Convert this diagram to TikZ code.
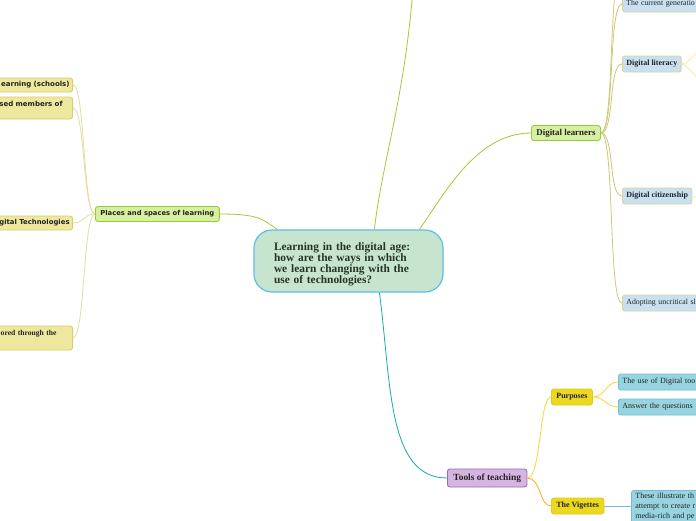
\documentclass[tikz,border=0pt]{standalone}
\usepackage{fontspec}
\setmainfont{Liberation Serif}
\newfontfamily\tagfont{DejaVu Sans}
\usetikzlibrary{positioning}
\definecolor{rootfill}{RGB}{199,229,206}
\definecolor{rootline}{RGB}{92,190,230}
\definecolor{rootink}{RGB}{38,52,40}
\definecolor{greenfill}{RGB}{214,240,160}
\definecolor{greenline}{RGB}{150,202,60}
\definecolor{olivefill}{RGB}{238,232,158}
\definecolor{oliveline}{RGB}{214,206,110}
\definecolor{bluefill}{RGB}{200,224,240}
\definecolor{blueline}{RGB}{216,214,150}
\definecolor{lilacfill}{RGB}{214,180,226}
\definecolor{lilacline}{RGB}{150,110,172}
\definecolor{yelfill}{RGB}{236,216,30}
\definecolor{yelline}{RGB}{224,202,24}
\definecolor{tealfill}{RGB}{152,212,224}
\definecolor{tealline}{RGB}{110,190,212}
\definecolor{ink}{RGB}{35,35,35}
\definecolor{greenlink}{RGB}{164,200,56}
\definecolor{olivelink}{RGB}{206,200,120}
\definecolor{palelink}{RGB}{226,222,160}
\definecolor{teallink}{RGB}{20,170,182}
\definecolor{yellink}{RGB}{252,214,40}
\definecolor{orangelink}{RGB}{250,170,20}
\definecolor{lightyel}{RGB}{250,236,150}
\tikzset{rootbox/.style={draw=rootline,fill=rootfill,line width=1.2pt,rounded corners=18pt,
    text width=149pt,inner xsep=20pt,minimum height=62pt,align=left,text=rootink,
    font=\fontsize{11.4}{11}\selectfont\bfseries},
  leaf/.style={rounded corners=2.5pt,line width=0.8pt,inner xsep=5pt,inner ysep=2pt,text=ink},
  greenbox/.style={leaf,draw=greenline,fill=greenfill,minimum height=15pt},
  olivebox/.style={leaf,draw=oliveline,fill=olivefill,anchor=east,text width=120pt,align=right,
    inner xsep=3pt,font=\tagfont\fontsize{7}{9}\selectfont\bfseries},
  bluebox/.style={leaf,draw=blueline,fill=bluefill,anchor=west,minimum height=16pt,inner xsep=4pt},
  cutbox/.style={text width=120pt,align=left},
  yelbox/.style={leaf,draw=yelline,fill=yelfill,anchor=west,minimum height=16pt,
    font=\fontsize{8}{9}\selectfont\bfseries},
  tealbox/.style={leaf,draw=tealline,fill=tealfill,anchor=west,minimum height=16pt,inner xsep=4pt,
    font=\fontsize{8}{10}\selectfont},
  link/.style={line width=0.8pt}}

\begin{document}
\begin{tikzpicture}[x=1pt,y=-1pt]
\useasboundingbox (0,0) rectangle (696,520);
\begin{scope}
\clip (0,0) rectangle (696,520);
\fill[white] (0,0) rectangle (696,520);
% centre
\node[rootbox] (root) at (348.5,261) {\rule{0pt}{14pt}Learning in the digital age:\\how are the ways in which\\we learn changing with the\\use of technologies?};
% places and spaces
\node[greenbox,anchor=west,font=\tagfont\fontsize{6.8}{8}\selectfont\bfseries] (places) at (95,214) {Places and spaces of learning};
\node[olivebox,minimum height=14pt] (schools) at (73,85) {earning (schools)};
\node[olivebox,minimum height=22pt] (members) at (73,108) {\mbox{sed members of\kern7pt}\\\mbox{}};
\node[olivebox,minimum height=14pt,font=\tagfont\fontsize{6.9}{9}\selectfont\bfseries] (digitech) at (73,223) {gital Technologies};
\node[olivebox,minimum height=24pt,font=\fontsize{7.6}{10}\selectfont\bfseries] (explored) at (73,338) {\mbox{ored through the\kern13pt}\\\mbox{}};
% digital learners
\node[greenbox,anchor=west,font=\fontsize{8.9}{9}\selectfont\bfseries] (learners) at (531,133) {Digital learners};
\node[bluebox,cutbox,font=\fontsize{7.8}{9}\selectfont] (generation) at (622,4) {The current generatio};
\node[bluebox,font=\fontsize{8}{9}\selectfont\bfseries] (literacy) at (622,64) {Digital literacy};
\node[bluebox,font=\fontsize{8}{9}\selectfont\bfseries] (citizen) at (622,196) {Digital citizenship};
\node[bluebox,cutbox,font=\fontsize{7.8}{9}\selectfont] (uncritical) at (622,303) {Adopting uncritical sl};
% tools of teaching
\node[leaf,draw=lilacline,fill=lilacfill,anchor=west,minimum height=18pt,inner xsep=6pt,
  font=\fontsize{9.4}{10}\selectfont\bfseries] (tools) at (447,478) {Tools of teaching};
\node[yelbox] (purposes) at (551,397) {Purposes};
\node[yelbox] (vignettes) at (551,506) {The Vigettes};
\node[tealbox,cutbox] (digitools) at (618,382) {The use of Digital too};
\node[tealbox,cutbox] (questions) at (618,407) {Answer the questions};
\node[tealbox,cutbox,anchor=north west,inner ysep=3pt] (illustrate) at (631,490) {These illustrate th\\attempt to create r\\media-rich and pe\\\mbox{}};
% ends off the page
\coordinate (topend) at (414,-25);
\coordinate (aboveend) at (622,-30);
\coordinate (litA) at (712,42);
\coordinate (litB) at (712,90);
\coordinate (citend) at (706,196);
% connectors
\draw[link,greenlink] ([xshift=121pt]root.north west) .. controls +(8,-70) and +(-8,120) .. (topend);
\draw[link,greenlink] ([xshift=166pt]root.north west) .. controls +(25,-35) and +(-55,0) .. (learners.west);
\draw[link,greenlink] ([xshift=24pt]root.north west) .. controls +(-15,-10) and +(40,0) .. (places.east);
\draw[link,teallink] ([xshift=126pt]root.south west) .. controls +(12,90) and +(-60,0) .. (tools.west);
\foreach \leaf in {schools,members,digitech,explored}
  \draw[link,palelink] (places.west) .. controls +(-12,0) and +(12,0) .. (\leaf.east);
\foreach \leaf in {aboveend,generation,literacy,citizen,uncritical}
  \draw[link,olivelink] (learners.east) .. controls +(14,0) and +(-14,0) .. (\leaf.west);
\draw[link,lightyel] (literacy.east) .. controls +(8,0) and +(-10,0) .. (litA);
\draw[link,lightyel] (literacy.east) .. controls +(8,0) and +(-10,0) .. (litB);
\draw[link,lightyel] (citizen.east) -- (citend);
\draw[link,yellink] (tools.east) .. controls +(14,0) and +(-12,0) .. (purposes.west);
\draw[link,orangelink] (tools.east) .. controls +(14,0) and +(-12,0) .. (vignettes.west);
\draw[link,yellink] (purposes.east) .. controls +(12,0) and +(-12,0) .. (digitools.west);
\draw[link,yellink] (purposes.east) .. controls +(12,0) and +(-12,0) .. (questions.west);
\draw[link,tealline] (vignettes.east) -- (vignettes.east -| illustrate.west);
\end{scope}
\end{tikzpicture}
\end{document}
